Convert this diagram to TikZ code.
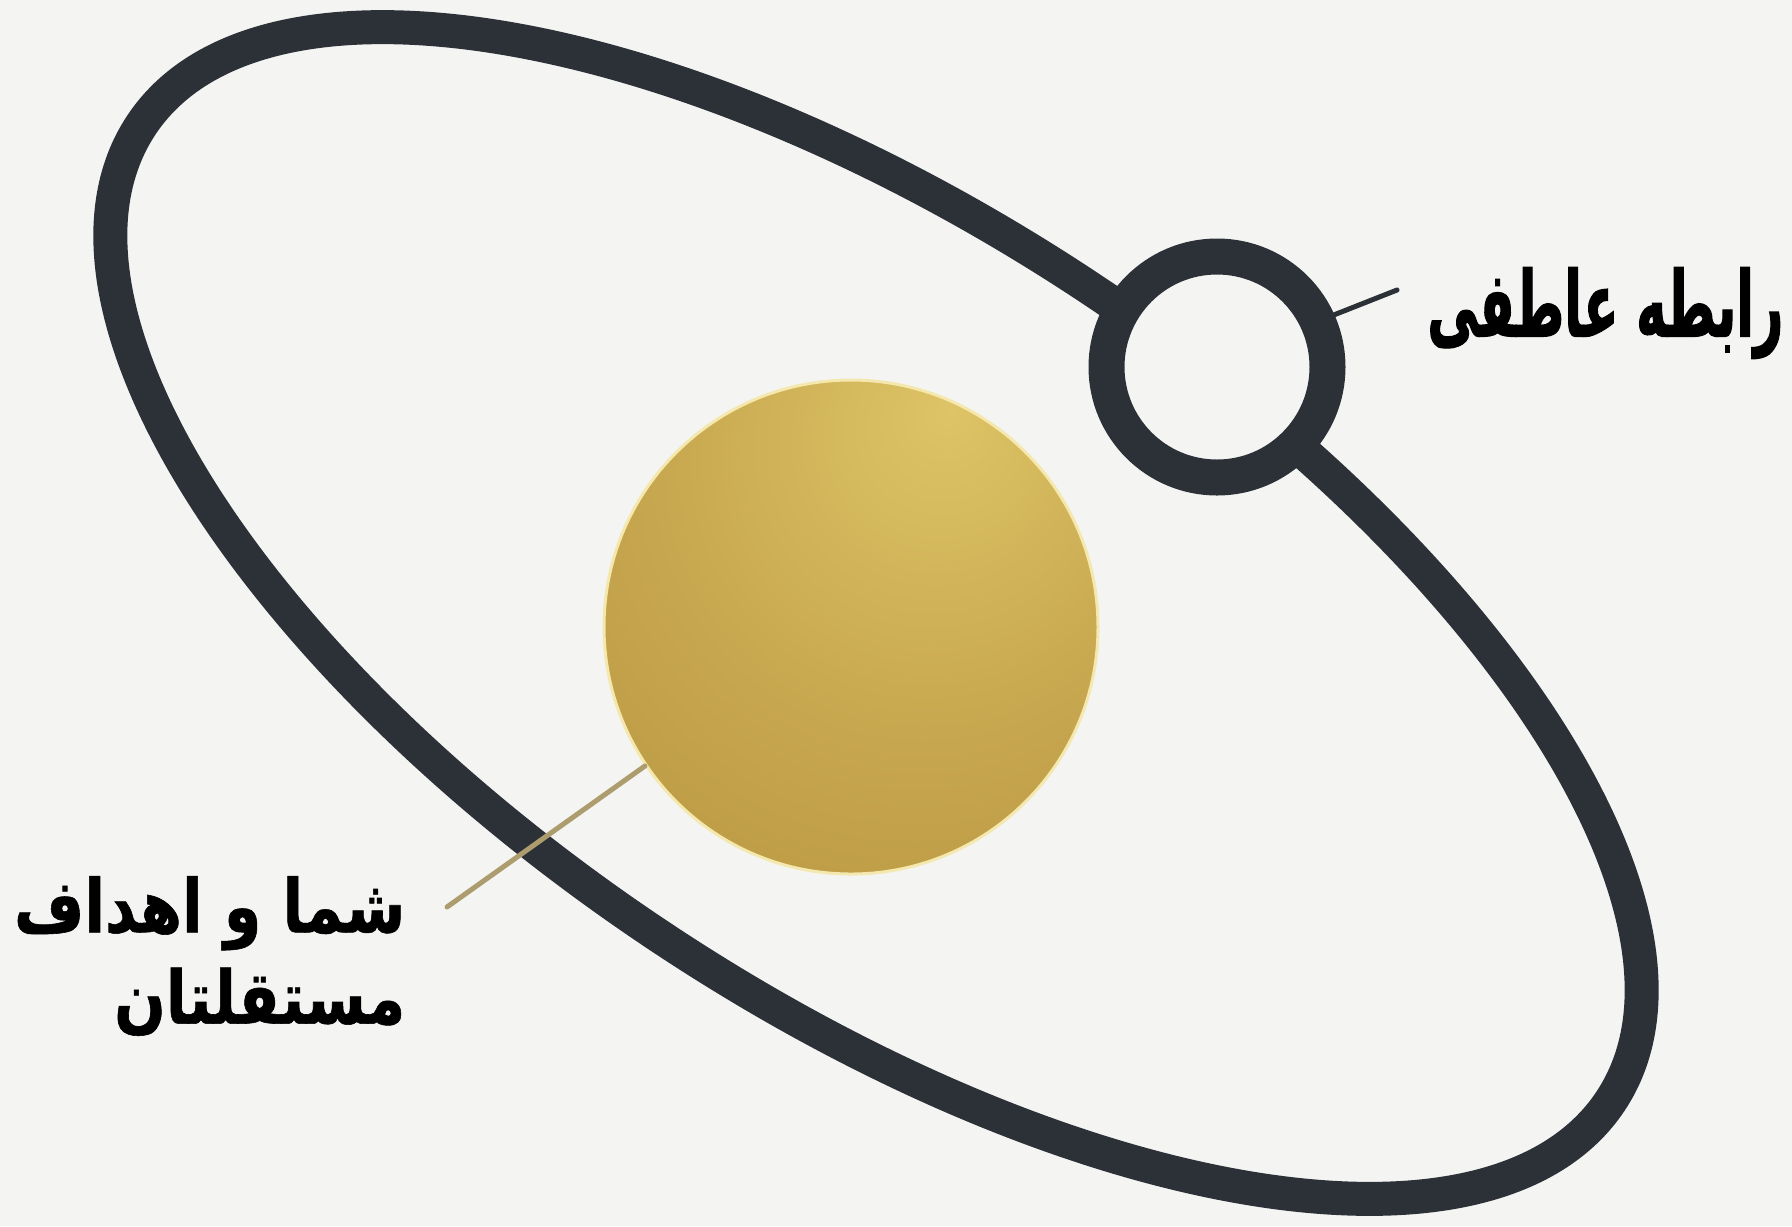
\documentclass[tikz,border=0pt]{standalone}
\usepackage{fontspec}
\newfontfamily\bondfont[Script=Arabic,FakeStretch=0.56,FakeBold=1.2]{DejaVu Sans}
\newfontfamily\goalfont[Script=Arabic,FakeStretch=0.82,FakeBold=0.8]{DejaVu Sans}
\TeXXeTstate=1
\definecolor{paper}{RGB}{244,244,242}
\definecolor{orbit}{RGB}{44,49,56}
\definecolor{goldhi}{RGB}{222,196,102}
\definecolor{goldmid}{RGB}{198,166,78}
\definecolor{golddark}{RGB}{178,142,60}
\definecolor{goldrim}{RGB}{245,232,175}
\definecolor{leadgold}{RGB}{172,156,110}
\pgfdeclareradialshading{goldsphere}{\pgfpoint{10bp}{22bp}}{color(0bp)=(goldhi); color(28bp)=(goldmid); color(62bp)=(golddark); color(100bp)=(golddark)}
\begin{document}
\begin{tikzpicture}[line cap=round,
 orbitline/.style={draw=orbit,line width=3.4mm},
 bondring/.style={circle,draw=orbit,fill=paper,line width=3.6mm,minimum size=2.21cm,inner sep=0pt},
 youball/.style={circle,shade,shading=goldsphere,draw=goldrim,line width=.3mm,minimum size=4.94cm,inner sep=0pt},
 lbl/.style={text=black,inner sep=0pt,align=right},
 leader/.style={line width=.5mm}]
\fill[paper] (0,0) rectangle (17.92,-12.26); \useasboundingbox (0,0) rectangle (17.92,-12.26);
\draw[orbitline,rotate around={-33.6:(8.76,-6.13)}] (8.76,-6.13) ellipse [x radius=8.82,y radius=3.89];
\node[youball] (you) at (8.51,-6.27) {};
\node[bondring] (bond) at (12.17,-3.67) {};
\coordinate (bondend) at (13.97,-2.90); \coordinate (youend) at (4.47,-9.07);
\draw[leader,draw=orbit] (bond.24) -- (bondend);
\draw[leader,draw=leadgold] (you.214.5) -- (youend);
\node[lbl,font=\bondfont\bfseries\fontsize{26}{30}\selectfont,anchor=east] (bondlbl) at (17.84,-3.13) {\beginR رابطه عاطفی\endR};
\node[lbl,font=\goalfont\bfseries\fontsize{21}{26}\selectfont,anchor=east] (youlbl) at (4.06,-9.56) {\beginR شما و اهداف\endR\\\beginR مستقلتان\endR};
\end{tikzpicture}
\end{document}
